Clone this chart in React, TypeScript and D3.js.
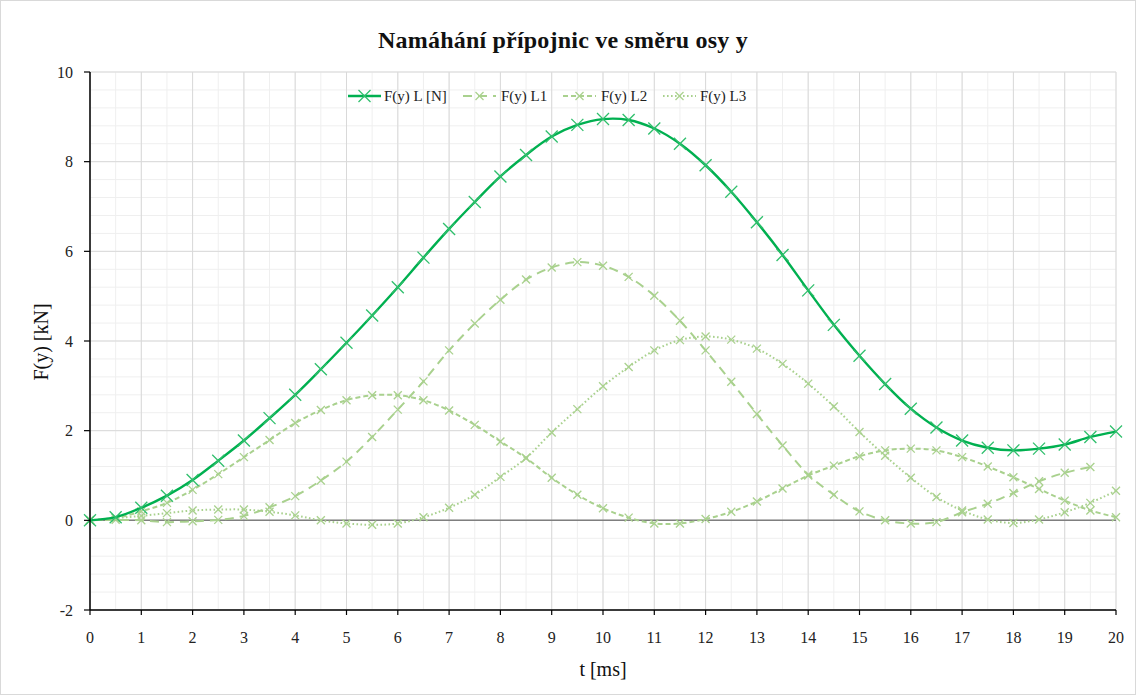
import React from "react";
import * as d3 from "d3";

const tValues = [0, 0.5, 1, 1.5, 2, 2.5, 3, 3.5, 4, 4.5, 5, 5.5, 6, 6.5, 7, 7.5, 8, 8.5, 9, 9.5, 10, 10.5, 11, 11.5, 12, 12.5, 13, 13.5, 14, 14.5, 15, 15.5, 16, 16.5, 17, 17.5, 18, 18.5, 19, 19.5, 20];
const seriesL = [0, 0.07, 0.28, 0.55, 0.9, 1.33, 1.78, 2.28, 2.8, 3.37, 3.96, 4.57, 5.2, 5.86, 6.5, 7.1, 7.67, 8.15, 8.56, 8.82, 8.95, 8.93, 8.74, 8.4, 7.92, 7.33, 6.65, 5.92, 5.13, 4.36, 3.67, 3.04, 2.49, 2.07, 1.78, 1.62, 1.56, 1.6, 1.69, 1.86, 1.98];
const seriesL1 = [0, 0.01, 0, -0.04, -0.02, 0.01, 0.1, 0.29, 0.54, 0.89, 1.31, 1.86, 2.47, 3.1, 3.79, 4.39, 4.92, 5.37, 5.64, 5.76, 5.68, 5.43, 5.01, 4.45, 3.79, 3.09, 2.37, 1.67, 1.02, 0.57, 0.2, 0.0, -0.07, -0.04, 0.18, 0.37, 0.61, 0.87, 1.06, 1.19, null];
const seriesL2 = [0, 0.05, 0.2, 0.39, 0.68, 1.03, 1.41, 1.79, 2.17, 2.46, 2.68, 2.79, 2.79, 2.68, 2.45, 2.13, 1.76, 1.39, 0.95, 0.57, 0.27, 0.06, -0.07, -0.07, 0.03, 0.19, 0.42, 0.71, 1.0, 1.22, 1.43, 1.56, 1.6, 1.56, 1.41, 1.2, 0.96, 0.7, 0.44, 0.22, 0.07];
const seriesL3 = [0, 0.05, 0.1, 0.16, 0.22, 0.24, 0.24, 0.19, 0.11, 0.0, -0.07, -0.1, -0.07, 0.07, 0.28, 0.57, 0.97, 1.39, 1.96, 2.48, 2.99, 3.42, 3.79, 4.02, 4.1, 4.03, 3.83, 3.49, 3.05, 2.54, 1.97, 1.44, 0.95, 0.52, 0.22, 0.02, -0.06, 0.02, 0.18, 0.39, 0.66];

const seriesNames = ["F(y) L [N]", "F(y) L1", "F(y) L2", "F(y) L3"];
const xTicks = [0, 1, 2, 3, 4, 5, 6, 7, 8, 9, 10, 11, 12, 13, 14, 15, 16, 17, 18, 19, 20];
const yTicks = [-2, 0, 2, 4, 6, 8, 10];
const titleText = "Namáhání přípojnic ve směru osy y";
const xTitle = "t [ms]";
const yTitle = "F(y) [kN]";

const W = 1136;
const H = 695;
const FONT = "'Liberation Serif', 'DejaVu Serif', serif";

export default function App() {
  const x = d3.scaleLinear().domain([0, 20]).range([90, 1116]);
  const y = d3.scaleLinear().domain([-2, 10]).range([610, 72]);

  const styles = [
    { color: "#00b050", width: 2.4, dash: "", mColor: "#2fbf6c", mSize: 6, mWidth: 1.3 },
    { color: "#a9d18e", width: 2, dash: "9,6", mColor: "#a9d18e", mSize: 4, mWidth: 1.3 },
    { color: "#a9d18e", width: 2, dash: "5,3", mColor: "#a9d18e", mSize: 4, mWidth: 1.3 },
    { color: "#a9d18e", width: 2, dash: "1.6,2.4", mColor: "#a9d18e", mSize: 4, mWidth: 1.3 },
  ];
  const allSeries = [seriesL, seriesL1, seriesL2, seriesL3];

  const line = d3
    .line<[number, number | null]>()
    .defined((d) => d[1] !== null)
    .x((d) => x(d[0]))
    .y((d) => y(d[1] as number))
    .curve(d3.curveCatmullRom.alpha(0.5));

  const minorX = d3.range(0, 20.001, 0.5);
  const minorY = d3.range(-2, 10.001, 0.4);

  const cross = (cx: number, cy: number, s: number, color: string, w: number, key: string) => (
    <g key={key} stroke={color} strokeWidth={w}>
      <line x1={cx - s} y1={cy - s} x2={cx + s} y2={cy + s} />
      <line x1={cx - s} y1={cy + s} x2={cx + s} y2={cy - s} />
    </g>
  );

  const legendItems = [
    { lx: 348, tx: 384 },
    { lx: 463, tx: 501 },
    { lx: 563, tx: 601 },
    { lx: 663, tx: 700 },
  ];

  return (
    <svg width={W} height={H} style={{ position: "absolute", left: 0, top: 0, background: "#fff" }} fontFamily={FONT}>
      <rect x={0.5} y={0.5} width={W - 1} height={H - 1} fill="#fff" stroke="#d9d9d9" />
      {minorX.map((v, i) => (
        <line key={"mx" + i} x1={x(v)} x2={x(v)} y1={y(10)} y2={y(-2)} stroke="#efefef" strokeWidth={1} />
      ))}
      {minorY.map((v, i) => (
        <line key={"my" + i} x1={x(0)} x2={x(20)} y1={y(v)} y2={y(v)} stroke="#efefef" strokeWidth={1} />
      ))}
      {xTicks.map((v) => (
        <line key={"gx" + v} x1={x(v)} x2={x(v)} y1={y(10)} y2={y(-2)} stroke="#d9d9d9" strokeWidth={1} />
      ))}
      {yTicks.map((v) => (
        <line key={"gy" + v} x1={x(0)} x2={x(20)} y1={y(v)} y2={y(v)} stroke="#d9d9d9" strokeWidth={1} />
      ))}
      <line x1={x(0)} x2={x(20)} y1={y(0)} y2={y(0)} stroke="#7f7f7f" strokeWidth={1.5} />

      {[3, 2, 1, 0].map((si) => {
        const st = styles[si];
        const data = tValues.map((t, i) => [t, allSeries[si][i]] as [number, number | null]);
        return (
          <g key={"s" + si}>
            <path d={line(data) || ""} fill="none" stroke={st.color} strokeWidth={st.width} strokeDasharray={st.dash} />
            {data
              .filter((d) => d[1] !== null)
              .map((d, i) => cross(x(d[0]), y(d[1] as number), st.mSize, st.mColor, st.mWidth, "m" + si + "-" + i))}
          </g>
        );
      })}

      <line x1={x(0)} x2={x(0)} y1={y(10)} y2={y(-2)} stroke="#000" strokeWidth={1.5} />
      <line x1={x(0)} x2={x(20)} y1={y(-2)} y2={y(-2)} stroke="#000" strokeWidth={1.5} />
      {yTicks.map((v) => (
        <g key={"yt" + v}>
          <line x1={x(0) - 6} x2={x(0)} y1={y(v)} y2={y(v)} stroke="#000" strokeWidth={1.2} />
          <text x={73} y={y(v)} dy="0.35em" textAnchor="end" fontSize={16} fill="#222">
            {v}
          </text>
        </g>
      ))}
      {xTicks.map((v) => (
        <g key={"xt" + v}>
          <line x1={x(v)} x2={x(v)} y1={y(-2)} y2={y(-2) + 5} stroke="#000" strokeWidth={1.2} />
          <text x={x(v)} y={643} textAnchor="middle" fontSize={16} fill="#222">
            {v}
          </text>
        </g>
      ))}

      <text x={563} y={48} textAnchor="middle" fontSize={24} fontWeight="bold" letterSpacing={0.2} fill="#111">
        {titleText}
      </text>
      <text x={603} y={676} textAnchor="middle" fontSize={20} fill="#111">
        {xTitle}
      </text>
      <text transform={`translate(48,342) rotate(-90)`} textAnchor="middle" fontSize={20} fill="#111">
        {yTitle}
      </text>

      {legendItems.map((it, i) => {
        const st = styles[i];
        const cy = 96;
        return (
          <g key={"lg" + i}>
            <line x1={it.lx} x2={it.lx + 33} y1={cy} y2={cy} stroke={st.color} strokeWidth={st.width} strokeDasharray={st.dash} />
            {cross(it.lx + 16.5, cy, st.mSize, st.mColor, st.mWidth, "lm" + i)}
            <text x={it.tx} y={cy} dy="0.35em" fontSize={15} fill="#222">
              {seriesNames[i]}
            </text>
          </g>
        );
      })}
    </svg>
  );
}
